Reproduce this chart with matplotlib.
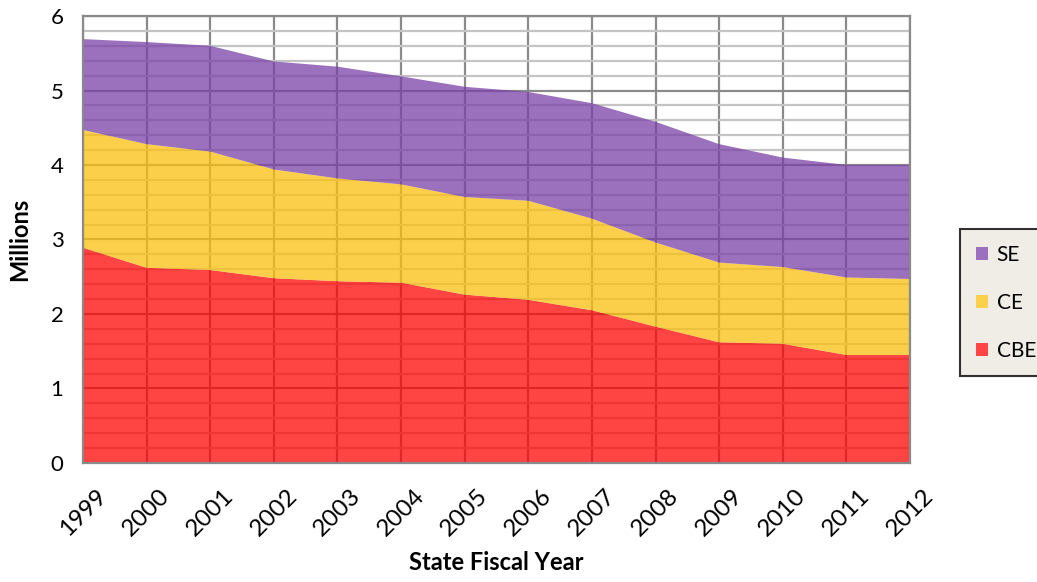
import matplotlib.pyplot as plt
from matplotlib.ticker import MultipleLocator
from matplotlib.patches import Patch

plt.rcParams['font.family'] = ['Lato', 'DejaVu Sans']

# State fiscal years and enrollment (millions) by group
years = [1999, 2000, 2001, 2002, 2003, 2004, 2005, 2006, 2007, 2008, 2009, 2010, 2011, 2012]
cbe = [2.89, 2.62, 2.59, 2.48, 2.44, 2.42, 2.26, 2.19, 2.05, 1.83, 1.62, 1.60, 1.45, 1.45]
ce = [1.58, 1.66, 1.59, 1.46, 1.38, 1.32, 1.31, 1.33, 1.23, 1.13, 1.07, 1.03, 1.04, 1.02]
se = [1.22, 1.37, 1.42, 1.45, 1.50, 1.45, 1.48, 1.46, 1.55, 1.62, 1.59, 1.47, 1.51, 1.53]

labels = ["CBE", "CE", "SE"]
# fill colours are drawn at alpha 0.75 so the grid shows through
fill_colors = ["#ff0505", "#fbc00e", "#7a40a6"]
shown_colors = ["#ff4545", "#fcd04a", "#9b70bc"]

fig = plt.figure(figsize=(10.37, 5.82), dpi=100)
ax = fig.add_axes([0.080, 0.2045, 0.7975, 0.768])

ax.set_axisbelow(True)
ax.yaxis.set_major_locator(MultipleLocator(1))
ax.yaxis.set_minor_locator(MultipleLocator(0.2))
ax.grid(which='minor', axis='y', color='#c4c4c4', linewidth=1.6)
ax.grid(which='major', axis='y', color='#8a8a8a', linewidth=1.6)
ax.grid(which='major', axis='x', color='#8a8a8a', linewidth=1.6)

ax.stackplot(years, cbe, ce, se, colors=fill_colors, alpha=0.75, linewidth=0)

ax.set_xlim(1999, 2012)
ax.set_ylim(0, 6)
ax.set_xticks(years)
ax.set_xticklabels([str(y) for y in years], rotation=45, ha='center')
ax.tick_params(axis='both', which='both', length=0)
ax.tick_params(axis='x', labelsize=17.5, pad=16)
ax.tick_params(axis='y', labelsize=16, pad=14)

for side in ['left', 'bottom', 'right', 'top']:
    ax.spines[side].set_color('#8a8a8a')
    ax.spines[side].set_linewidth(1.6)

ax.set_ylabel("Millions", fontsize=17, fontweight='bold', labelpad=14)
ax.set_xlabel("State Fiscal Year", fontsize=17, fontweight='bold', labelpad=8)

handles = [Patch(facecolor=c, edgecolor='none') for c in shown_colors[::-1]]
leg = fig.legend(handles, labels[::-1], loc='center left',
                 bbox_to_anchor=(0.926, 0.48), fontsize=15,
                 frameon=True, fancybox=False, handlelength=0.6,
                 handleheight=0.6, handletextpad=0.4, labelspacing=1.35,
                 borderpad=0.75, borderaxespad=0)
leg.get_frame().set_facecolor('#ece9df')
leg.get_frame().set_edgecolor('black')
leg.get_frame().set_linewidth(1.5)

fig.savefig("out.png", dpi=100)
